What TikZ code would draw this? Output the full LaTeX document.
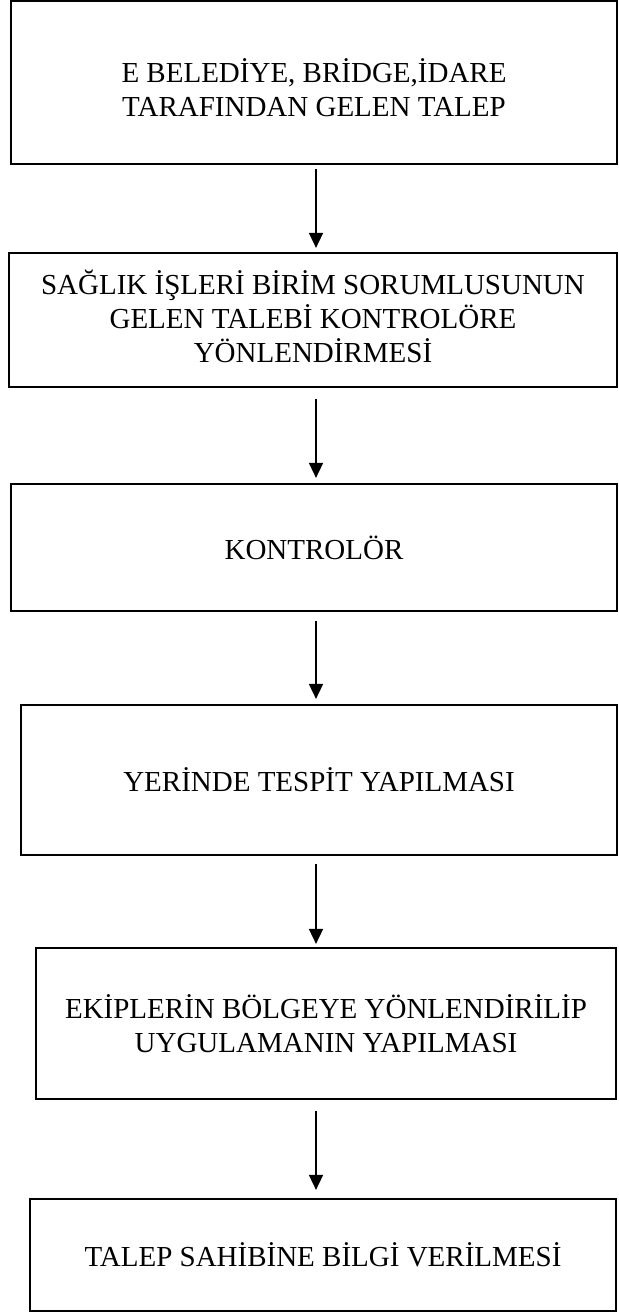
\documentclass[tikz,border=0pt]{standalone}
\usepackage{fontspec}
\setmainfont{Liberation Serif}
\usetikzlibrary{arrows.meta}
\begin{document}
\begin{tikzpicture}[x=1pt,y=-1pt,
  box/.style={draw, line width=2.2pt, rectangle, inner sep=0pt},
  txt/.style={inner sep=0pt, align=center, font=\fontsize{29}{34}\selectfont},
  arr/.style={-{Triangle[width=14pt,length=15pt]}, line width=1.6pt}]
\useasboundingbox (0,0) rectangle (618,1313);
\fill[white] (0,0) rectangle (618,1313);
\coordinate (ax) at (316,0);
\node[box, minimum width=606pt, minimum height=163pt] (b1) at (314,82.5) {};
\node[txt] (t1) at ([yshift=-5pt]b1.center)
  {E BELEDİYE, BRİDGE,İDARE\\TARAFINDAN GELEN TALEP};
\node[box, minimum width=608pt, minimum height=134pt] (b2) at (313,320) {};
\node[txt] (t2) at ([yshift=4pt]b2.center)
  {SAĞLIK İŞLERİ BİRİM SORUMLUSUNUN\\GELEN TALEBİ KONTROLÖRE\\YÖNLENDİRMESİ};
\node[box, minimum width=606pt, minimum height=127pt] (b3) at (314,547.5) {};
\node[txt] (t3) at (b3.center) {KONTROLÖR};
\node[box, minimum width=596pt, minimum height=150pt] (b4) at (319,780) {};
\node[txt] (t4) at (b4.center) {YERİNDE TESPİT YAPILMASI};
\node[box, minimum width=580pt, minimum height=151pt] (b5) at (326,1023.5) {};
\node[txt] (t5) at (b5.center)
  {EKİPLERİN BÖLGEYE YÖNLENDİRİLİP\\UYGULAMANIN YAPILMASI};
\node[box, minimum width=586pt, minimum height=112pt] (b6) at (323,1255) {};
\node[txt] (t6) at (b6.center) {TALEP SAHİBİNE BİLGİ VERİLMESİ};
\draw[arr, shorten <=4pt, shorten >=4pt] (b1.south -| ax) -- (b2.north -| ax);
\draw[arr, shorten <=11pt, shorten >=5pt] (b2.south -| ax) -- (b3.north -| ax);
\draw[arr, shorten <=9pt, shorten >=5pt] (b3.south -| ax) -- (b4.north -| ax);
\draw[arr, shorten <=8pt, shorten >=3pt] (b4.south -| ax) -- (b5.north -| ax);
\draw[arr, shorten <=11pt, shorten >=8pt] (b5.south -| ax) -- (b6.north -| ax);
\end{tikzpicture}
\end{document}
